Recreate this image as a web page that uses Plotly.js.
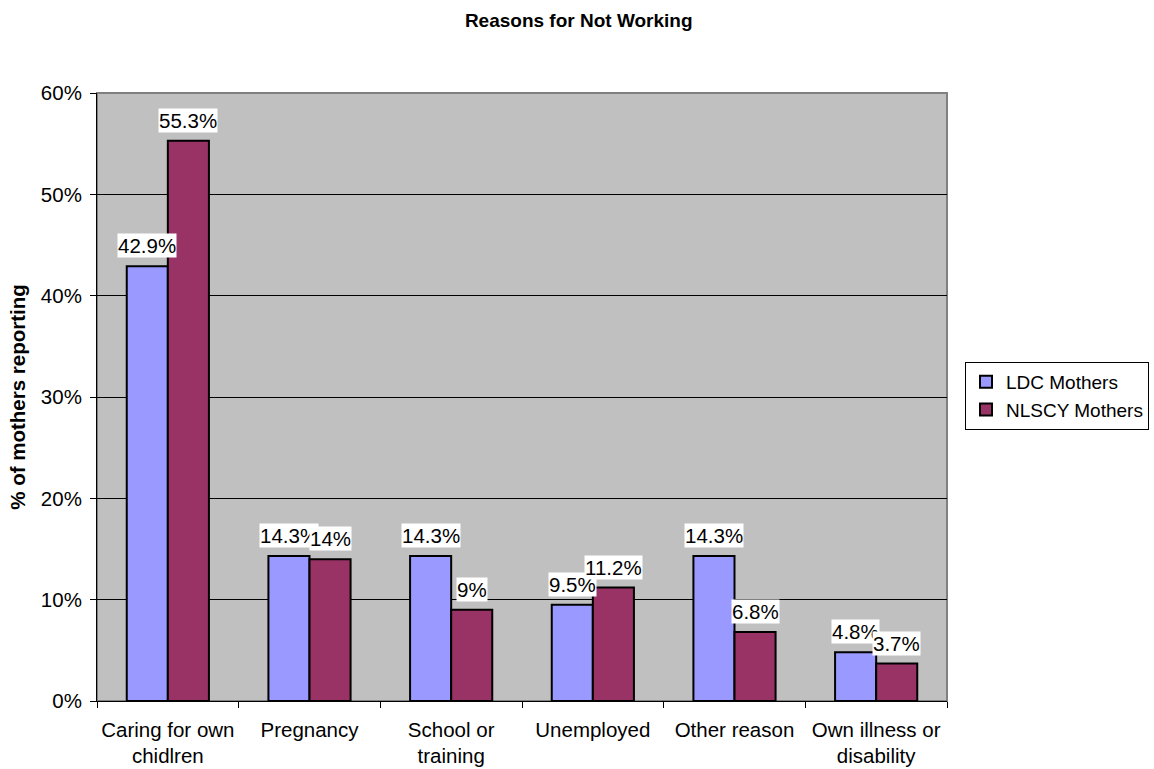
<!DOCTYPE html>
<html>
<head>
<meta charset="utf-8">
<script src="https://cdn.plot.ly/plotly-3.0.1.min.js"></script>
<style>html,body{margin:0;padding:0;background:#fff;overflow:hidden;}#chart{width:1154px;height:769px;}</style>
</head>
<body>
<div id="chart"></div>
<script>
const categories = ["Caring for own<br>chidlren", "Pregnancy", "School or<br>training", "Unemployed", "Other reason", "Own illness or<br>disability"];
const ldcValues = [42.9, 14.3, 14.3, 9.5, 14.3, 4.8];
const nlscyValues = [55.3, 14, 9, 11.2, 6.8, 3.7];
const seriesNames = ["LDC Mothers", "NLSCY Mothers"];
const yTickValues = [0, 10, 20, 30, 40, 50, 60];

const FONT = "Liberation Sans, Arial, sans-serif";
const FS = 20.5;
const colors = ["#9999FF", "#993366"];

const traces = [ldcValues, nlscyValues].map((vals, i) => ({
  type: "bar",
  name: seriesNames[i],
  x: categories,
  y: vals,
  marker: {color: colors[i], line: {color: "#000", width: 2}},
  hoverinfo: "skip"
}));

const annotations = [];
[ldcValues, nlscyValues].forEach((vals, i) => {
  vals.forEach((v, j) => {
    annotations.push({
      xref: "x", yref: "y",
      x: categories[j], y: v,
      xshift: i === 0 ? -20.5 : 20.5,
      yshift: 8,
      yanchor: "bottom",
      text: v + "%",
      showarrow: false,
      bgcolor: "#fff",
      borderpad: 0,
      font: {family: FONT, size: FS, color: "#000"}
    });
  });
});

const layout = {
  width: 1154, height: 769,
  margin: {l: 97, r: 207, t: 93, b: 68, autoexpand: false},
  paper_bgcolor: "#fff",
  plot_bgcolor: "#C0C0C0",
  barmode: "group",
  bargap: 0.42,
  bargroupgap: 0,
  font: {family: FONT, size: FS, color: "#000"},
  title: {
    text: "<b>Reasons for Not Working</b>",
    font: {family: FONT, size: 19, color: "#000"},
    xref: "container", x: 0.5015, xanchor: "center",
    yref: "container", y: 0.974, yanchor: "middle"
  },
  xaxis: {
    type: "category",
    showgrid: false,
    showline: true, linecolor: "#000", linewidth: 1,
    ticks: "outside", ticklen: 6, tickcolor: "#000",
    tickson: "boundaries",
    tickangle: 0,
    ticklabelstandoff: 10,
    tickfont: {family: FONT, size: FS, color: "#000"},
    automargin: false
  },
  yaxis: {
    range: [0, 60],
    tickvals: yTickValues,
    ticktext: yTickValues.map(v => v + "%"),
    showgrid: true, gridcolor: "#000", gridwidth: 1,
    zeroline: false,
    showline: true, linecolor: "#000", linewidth: 1,
    ticks: "outside", ticklen: 6, tickcolor: "#000",
    ticklabelstandoff: 4,
    tickfont: {family: FONT, size: FS, color: "#000"},
    title: {text: "<b>% of mothers reporting</b>", font: {family: FONT, size: FS, color: "#000"}, standoff: 9},
    automargin: false
  },
  legend: {
    xref: "container", yref: "container",
    x: 965 / 1154, xanchor: "left",
    y: 1 - 396 / 769, yanchor: "middle",
    bgcolor: "#fff",
    bordercolor: "#000", borderwidth: 1,
    font: {family: FONT, size: 19, color: "#000"},
    tracegroupgap: 0
  },
  shapes: [{
    type: "rect", xref: "paper", yref: "paper",
    x0: 0, x1: 1, y0: 0, y1: 1,
    line: {color: "#808080", width: 2},
    layer: "below"
  }],
  annotations: annotations
};

Plotly.newPlot("chart", traces, layout, {displayModeBar: false, staticPlot: true});
</script>
</body>
</html>
